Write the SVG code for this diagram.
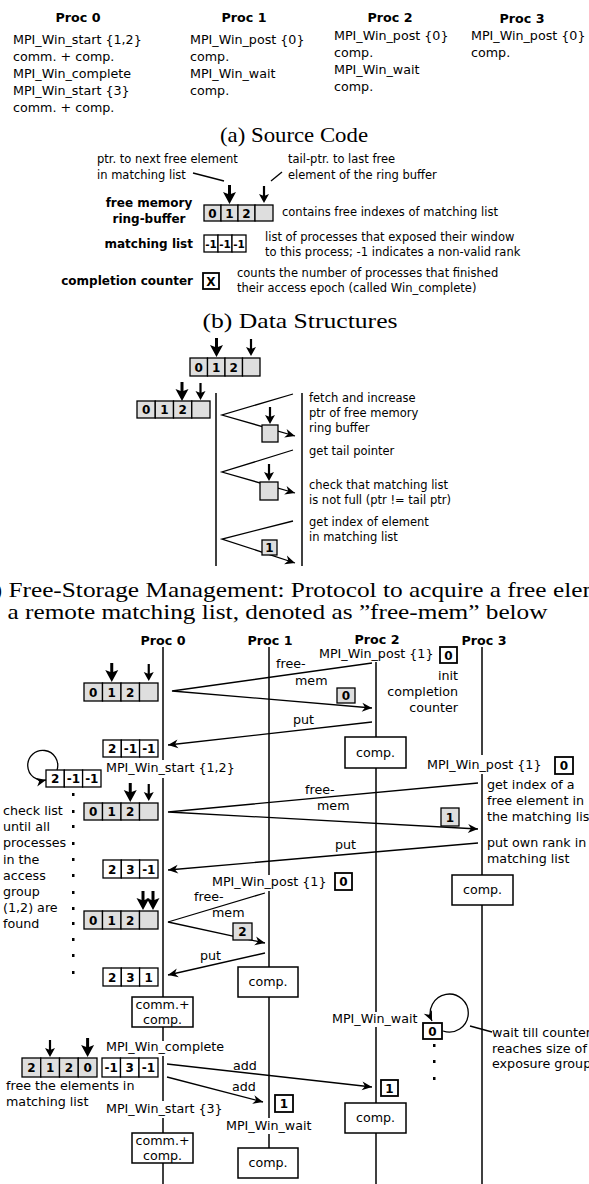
<svg xmlns="http://www.w3.org/2000/svg" xmlns:xlink="http://www.w3.org/1999/xlink" width="589" height="1184" viewBox="0 0 589 1184">
<style>
text{font-family:"DejaVu Sans","Liberation Sans",sans-serif;fill:#000}
.t{font-size:12.7px}
.s{font-size:11.5px}
.b{font-size:12.7px;font-weight:bold}
.bs{font-size:12px;font-weight:bold}
.d{font-size:12px;font-weight:bold;text-anchor:middle}
.ds{font-size:10.5px;font-weight:bold;text-anchor:middle}
.m{text-anchor:middle}
.e{text-anchor:end}
.cap{font-family:"Liberation Serif","Times New Roman",serif;font-size:21px}
.g{fill:#dedede;stroke:#000;stroke-width:1.3}
.w{fill:#fff;stroke:#000;stroke-width:1.3}
.wb{fill:#fff;stroke:#000;stroke-width:1.8}
.bx{fill:#fff;stroke:#000;stroke-width:1.5}
.ln{fill:none;stroke:#000;stroke-width:1.3}
.ar{fill:none;stroke:#000;stroke-width:1.3;marker-end:url(#ah)}
.life{stroke:#000;stroke-width:1.5}
</style>
<defs>
<marker id="ah" viewBox="-11 -5 12 10" refX="0" refY="0" markerWidth="12" markerHeight="10" markerUnits="userSpaceOnUse" orient="auto"><path d="M0,0 L-10,-4.5 L-7,0 L-10,4.5 Z" fill="#000"/></marker>
<g id="pbig"><path d="M0,-19 V-9" stroke="#000" stroke-width="3"/><path d="M0,0 L-6.5,-12 L0,-9.5 L6.5,-12 Z" fill="#000"/></g>
<g id="psmall"><path d="M0,-17 V-7" stroke="#000" stroke-width="2.2"/><path d="M0,0 L-5,-9 L0,-7 L5,-9 Z" fill="#000"/></g>
</defs>

<!-- (a) Source code -->
<g id="source-code">
<text class="b m" x="78" y="22">Proc 0</text>
<text class="b m" x="244" y="22">Proc 1</text>
<text class="b m" x="390" y="22">Proc 2</text>
<text class="b m" x="522" y="23">Proc 3</text>
<text class="t" x="13" y="44">MPI_Win_start {1,2}</text>
<text class="t" x="13" y="61">comm. + comp.</text>
<text class="t" x="13" y="78">MPI_Win_complete</text>
<text class="t" x="13" y="95">MPI_Win_start {3}</text>
<text class="t" x="13" y="112">comm. + comp.</text>
<text class="t" x="190" y="44">MPI_Win_post {0}</text>
<text class="t" x="190" y="61">comp.</text>
<text class="t" x="190" y="78">MPI_Win_wait</text>
<text class="t" x="190" y="95">comp.</text>
<text class="t" x="334" y="40">MPI_Win_post {0}</text>
<text class="t" x="334" y="57">comp.</text>
<text class="t" x="334" y="74">MPI_Win_wait</text>
<text class="t" x="334" y="91">comp.</text>
<text class="t" x="471" y="40">MPI_Win_post {0}</text>
<text class="t" x="471" y="57">comp.</text>
<text class="cap m" x="294" y="142" textLength="148" lengthAdjust="spacingAndGlyphs">(a) Source Code</text>
</g>

<!-- (b) Data structures -->
<g id="data-structures">
<text class="s" x="97" y="163">ptr. to next free element</text>
<text class="s" x="97" y="179">in matching list</text>
<text class="s" x="288" y="163">tail-ptr. to last free</text>
<text class="s" x="288" y="179">element of the ring buffer</text>
<line class="ln" x1="193" y1="173" x2="224" y2="181"/>
<line class="ln" x1="271" y1="181" x2="282" y2="172"/>
<use xlink:href="#pbig" x="229.5" y="204"/>
<use xlink:href="#psmall" x="264" y="203"/>
<text class="bs m" x="149" y="207">free memory</text>
<text class="bs m" x="149" y="223">ring-buffer</text>
<rect class="g" x="204" y="205" width="17" height="16"/>
<rect class="g" x="221" y="205" width="17" height="16"/>
<rect class="g" x="238" y="205" width="17" height="16"/>
<rect class="g" x="255" y="205" width="18" height="16"/>
<text class="d" x="212.5" y="217.5">0</text>
<text class="d" x="229.5" y="217.5">1</text>
<text class="d" x="246.5" y="217.5">2</text>
<text class="s" x="282" y="216">contains free indexes of matching list</text>
<text class="bs e" x="193" y="248">matching list</text>
<rect class="w" x="204" y="235" width="14" height="17"/>
<rect class="w" x="218" y="235" width="14" height="17"/>
<rect class="w" x="232" y="235" width="14" height="17"/>
<text class="ds" x="211" y="247.5">-1</text>
<text class="ds" x="225" y="247.5">-1</text>
<text class="ds" x="239" y="247.5">-1</text>
<text class="s" x="265" y="241">list of processes that exposed their window</text>
<text class="s" x="265" y="256">to this process; -1 indicates a non-valid rank</text>
<text class="bs e" x="193" y="285">completion counter</text>
<rect class="wb" x="203" y="273" width="16" height="16"/>
<text class="d" x="211" y="285.5">X</text>
<text class="s" x="237" y="277">counts the number of processes that finished</text>
<text class="s" x="237" y="292">their access epoch (called Win_complete)</text>
<text class="cap m" x="300" y="328" textLength="195" lengthAdjust="spacingAndGlyphs">(b) Data Structures</text>
</g>

<!-- (c) Free-storage protocol -->
<g id="free-storage">
<use xlink:href="#pbig" x="216.5" y="357"/>
<use xlink:href="#psmall" x="251" y="356"/>
<rect class="g" x="190" y="358" width="17.5" height="18"/>
<rect class="g" x="207.5" y="358" width="17.5" height="18"/>
<rect class="g" x="225" y="358" width="17.5" height="18"/>
<rect class="g" x="242.5" y="358" width="17.5" height="18"/>
<text class="d" x="198.75" y="371.5">0</text>
<text class="d" x="216.25" y="371.5">1</text>
<text class="d" x="233.75" y="371.5">2</text>
<use xlink:href="#pbig" x="182" y="401"/>
<use xlink:href="#psmall" x="200.5" y="400"/>
<rect class="g" x="137" y="401" width="18.25" height="17"/>
<rect class="g" x="155.25" y="401" width="18.25" height="17"/>
<rect class="g" x="173.5" y="401" width="18.25" height="17"/>
<rect class="g" x="191.75" y="401" width="18.25" height="17"/>
<text class="d" x="146.1" y="414">0</text>
<text class="d" x="164.4" y="414">1</text>
<text class="d" x="182.6" y="414">2</text>
<line class="life" x1="216" y1="393" x2="216" y2="566"/>
<line class="life" x1="302" y1="393" x2="302" y2="566"/>
<polyline class="ar" points="293,394 222,415 295,436"/>
<rect class="g" x="262" y="425" width="16" height="17"/>
<use xlink:href="#psmall" x="270" y="424"/>
<polyline class="ar" points="293,450 222,472 295,493"/>
<rect class="g" x="260" y="482" width="18" height="18"/>
<use xlink:href="#psmall" x="269" y="481"/>
<polyline class="ar" points="293,521 222,539 295,563"/>
<rect class="g" x="262" y="540" width="15" height="15"/>
<text class="d" x="269.5" y="552">1</text>
<text class="s" x="309" y="402">fetch and increase</text>
<text class="s" x="309" y="417">ptr of free memory</text>
<text class="s" x="309" y="432">ring buffer</text>
<text class="s" x="309" y="455">get tail pointer</text>
<text class="s" x="309" y="489">check that matching list</text>
<text class="s" x="309" y="504">is not full (ptr != tail ptr)</text>
<text class="s" x="309" y="526">get index of element</text>
<text class="s" x="309" y="541">in matching list</text>
<text class="cap" x="-26" y="597" textLength="685" lengthAdjust="spacingAndGlyphs">(c) Free-Storage Management: Protocol to acquire a free element in</text>
<text class="cap" x="7.5" y="619" textLength="540" lengthAdjust="spacingAndGlyphs">a remote matching list, denoted as ”free-mem” below</text>
</g>

<!-- Sequence diagram: process headers and lifelines -->
<g id="proc0">
<text class="b m" x="163" y="645">Proc 0</text>
<line class="life" x1="163" y1="647" x2="163" y2="760"/>
<line class="life" x1="163" y1="778" x2="163" y2="997"/>
<line class="life" x1="163" y1="1027" x2="163" y2="1041"/>
<line class="life" x1="163" y1="1056" x2="163" y2="1101"/>
<line class="life" x1="163" y1="1118" x2="163" y2="1133"/>
<line class="life" x1="163" y1="1163" x2="163" y2="1184"/>
<text class="t" x="106" y="772">MPI_Win_start {1,2}</text>
<text class="t" x="106" y="1051">MPI_Win_complete</text>
<text class="t" x="106" y="1113">MPI_Win_start {3}</text>
<rect class="bx" x="132" y="997" width="61" height="30"/>
<text class="t m" x="162.5" y="1009">comm.+</text>
<text class="t m" x="162.5" y="1024">comp.</text>
<rect class="bx" x="132" y="1133" width="61" height="30"/>
<text class="t m" x="162.5" y="1145">comm.+</text>
<text class="t m" x="162.5" y="1160">comp.</text>
</g>
<g id="proc1">
<text class="b m" x="270" y="645">Proc 1</text>
<line class="life" x1="269" y1="647" x2="269" y2="875"/>
<line class="life" x1="269" y1="891" x2="269" y2="967"/>
<line class="life" x1="269" y1="997" x2="269" y2="1118"/>
<line class="life" x1="269" y1="1134" x2="269" y2="1148"/>
<text class="t" x="212" y="886">MPI_Win_post {1}</text>
<rect class="wb" x="335" y="873" width="17" height="17"/>
<text class="d" x="343.5" y="886">0</text>
<rect class="bx" x="238" y="967" width="60" height="30"/>
<text class="t m" x="268" y="986">comp.</text>
<text class="t" x="226" y="1130">MPI_Win_wait</text>
<rect class="wb" x="275" y="1095" width="18" height="17"/>
<text class="d" x="284" y="1108">1</text>
<rect class="bx" x="238" y="1148" width="60" height="30"/>
<text class="t m" x="268" y="1167">comp.</text>
</g>
<g id="proc2">
<text class="b m" x="377" y="644">Proc 2</text>
<text class="t" x="319" y="658">MPI_Win_post {1}</text>
<rect class="wb" x="440" y="647" width="17" height="16"/>
<text class="d" x="448.5" y="659.5">0</text>
<text class="t e" x="458" y="680">init</text>
<text class="t e" x="458" y="696">completion</text>
<text class="t e" x="458" y="712">counter</text>
<line class="life" x1="376" y1="662" x2="376" y2="737"/>
<line class="life" x1="376" y1="768" x2="376" y2="1012"/>
<line class="life" x1="376" y1="1027" x2="376" y2="1103"/>
<line class="life" x1="376" y1="1133" x2="376" y2="1184"/>
<rect class="bx" x="345" y="737" width="61" height="31"/>
<text class="t m" x="375.5" y="757">comp.</text>
<text class="t" x="332" y="1023">MPI_Win_wait</text>
<rect class="wb" x="423" y="1023" width="19" height="16"/>
<text class="d" x="432.5" y="1035.5">0</text>
<path class="ar" d="M443,1031 A19,19 0 1 0 432,1021"/>
<rect x="433" y="1044" width="2.5" height="3" fill="#000"/>
<rect x="433" y="1060" width="2.5" height="3" fill="#000"/>
<rect x="433" y="1077" width="2.5" height="3" fill="#000"/>
<line class="ln" x1="470" y1="1026" x2="492" y2="1032"/>
<text class="t" x="492" y="1037">wait till counter</text>
<text class="t" x="492" y="1053">reaches size of</text>
<text class="t" x="492" y="1068">exposure group</text>
<rect class="wb" x="381" y="1080" width="17" height="16"/>
<text class="d" x="389.5" y="1092.5">1</text>
<rect class="bx" x="345" y="1103" width="61" height="30"/>
<text class="t m" x="375.5" y="1122">comp.</text>
</g>
<g id="proc3">
<text class="b m" x="484" y="645">Proc 3</text>
<line class="life" x1="482" y1="647" x2="482" y2="755"/>
<line class="life" x1="482" y1="774" x2="482" y2="875"/>
<line class="life" x1="482" y1="905" x2="482" y2="1184"/>
<text class="t" x="427" y="769">MPI_Win_post {1}</text>
<rect class="wb" x="555" y="757" width="18" height="17"/>
<text class="d" x="564" y="770">0</text>
<text class="t" x="487" y="789">get index of a</text>
<text class="t" x="487" y="805">free element in</text>
<text class="t" x="487" y="821">the matching list</text>
<text class="t" x="487" y="847">put own rank in</text>
<text class="t" x="487" y="863">matching list</text>
<rect class="bx" x="452" y="875" width="61" height="30"/>
<text class="t m" x="482.5" y="894">comp.</text>
</g>

<!-- Proc 0 local data structures -->
<g id="p0-ring1">
<use xlink:href="#pbig" x="111.75" y="682"/>
<use xlink:href="#psmall" x="148.75" y="681"/>
<rect class="g" x="84" y="683" width="18.5" height="18"/>
<rect class="g" x="102.5" y="683" width="18.5" height="18"/>
<rect class="g" x="121" y="683" width="18.5" height="18"/>
<rect class="g" x="139.5" y="683" width="18.5" height="18"/>
<text class="d" x="93.25" y="696.5">0</text>
<text class="d" x="111.75" y="696.5">1</text>
<text class="d" x="130.25" y="696.5">2</text>
</g>
<g id="p0-list1">
<rect class="w" x="103" y="740" width="18.3" height="17"/>
<rect class="w" x="121.3" y="740" width="18.3" height="17"/>
<rect class="w" x="139.6" y="740" width="18.4" height="17"/>
<text class="d" x="112.2" y="753">2</text>
<text class="d" x="130.5" y="753">-1</text>
<text class="d" x="148.8" y="753">-1</text>
</g>
<g id="p0-loop-list">
<rect class="w" x="46" y="770" width="18.3" height="17"/>
<rect class="w" x="64.3" y="770" width="18.3" height="17"/>
<rect class="w" x="82.6" y="770" width="18.4" height="17"/>
<text class="d" x="55.2" y="783">2</text>
<text class="d" x="73.5" y="783">-1</text>
<text class="d" x="91.8" y="783">-1</text>
<path class="ar" d="M57,770 A15,15 0 1 0 46,780"/>
</g>
<g id="p0-checklist">
<rect x="72" y="793" width="2.5" height="3" fill="#000"/>
<rect x="72" y="810" width="2.5" height="3" fill="#000"/>
<rect x="72" y="825" width="2.5" height="3" fill="#000"/>
<rect x="72" y="842" width="2.5" height="3" fill="#000"/>
<rect x="72" y="858" width="2.5" height="3" fill="#000"/>
<rect x="72" y="874" width="2.5" height="3" fill="#000"/>
<rect x="72" y="891" width="2.5" height="3" fill="#000"/>
<rect x="72" y="907" width="2.5" height="3" fill="#000"/>
<rect x="72" y="922" width="2.5" height="3" fill="#000"/>
<rect x="72" y="938" width="2.5" height="3" fill="#000"/>
<rect x="72" y="954" width="2.5" height="3" fill="#000"/>
<rect x="72" y="971" width="2.5" height="3" fill="#000"/>
<text class="t" x="3" y="815">check list</text>
<text class="t" x="3" y="831">until all</text>
<text class="t" x="3" y="847">processes</text>
<text class="t" x="3" y="864">in the</text>
<text class="t" x="3" y="880">access</text>
<text class="t" x="3" y="896">group</text>
<text class="t" x="3" y="912">(1,2) are</text>
<text class="t" x="3" y="928">found</text>
</g>
<g id="p0-ring2">
<use xlink:href="#pbig" x="130.25" y="802"/>
<use xlink:href="#psmall" x="148.75" y="801"/>
<rect class="g" x="84" y="803" width="18.5" height="17"/>
<rect class="g" x="102.5" y="803" width="18.5" height="17"/>
<rect class="g" x="121" y="803" width="18.5" height="17"/>
<rect class="g" x="139.5" y="803" width="18.5" height="17"/>
<text class="d" x="93.25" y="816">0</text>
<text class="d" x="111.75" y="816">1</text>
<text class="d" x="130.25" y="816">2</text>
</g>
<g id="p0-list2">
<rect class="w" x="103" y="860" width="18.3" height="18"/>
<rect class="w" x="121.3" y="860" width="18.3" height="18"/>
<rect class="w" x="139.6" y="860" width="18.4" height="18"/>
<text class="d" x="112.2" y="873.5">2</text>
<text class="d" x="130.5" y="873.5">3</text>
<text class="d" x="148.8" y="873.5">-1</text>
</g>
<g id="p0-ring3">
<use xlink:href="#pbig" x="143" y="910"/>
<use xlink:href="#pbig" x="153" y="910"/>
<rect class="g" x="84" y="911" width="18.5" height="18"/>
<rect class="g" x="102.5" y="911" width="18.5" height="18"/>
<rect class="g" x="121" y="911" width="18.5" height="18"/>
<rect class="g" x="139.5" y="911" width="18.5" height="18"/>
<text class="d" x="93.25" y="924.5">0</text>
<text class="d" x="111.75" y="924.5">1</text>
<text class="d" x="130.25" y="924.5">2</text>
</g>
<g id="p0-list3">
<rect class="w" x="103" y="968" width="18.3" height="18"/>
<rect class="w" x="121.3" y="968" width="18.3" height="18"/>
<rect class="w" x="139.6" y="968" width="18.4" height="18"/>
<text class="d" x="112.2" y="981.5">2</text>
<text class="d" x="130.5" y="981.5">3</text>
<text class="d" x="148.8" y="981.5">1</text>
</g>
<g id="p0-ring4">
<use xlink:href="#psmall" x="50" y="1057"/>
<use xlink:href="#pbig" x="87.6" y="1057"/>
<rect class="g" x="22" y="1058" width="18.75" height="19"/>
<rect class="g" x="40.75" y="1058" width="18.75" height="19"/>
<rect class="g" x="59.5" y="1058" width="18.75" height="19"/>
<rect class="g" x="78.25" y="1058" width="18.75" height="19"/>
<text class="d" x="31.4" y="1072">2</text>
<text class="d" x="50.1" y="1072">1</text>
<text class="d" x="68.9" y="1072">2</text>
<text class="d" x="87.6" y="1072">0</text>
<text class="t" x="6" y="1090">free the elements in</text>
<text class="t" x="6" y="1106">matching list</text>
</g>
<g id="p0-list4">
<rect class="w" x="102" y="1058" width="18.5" height="19"/>
<rect class="w" x="120.5" y="1058" width="18.5" height="19"/>
<rect class="w" x="139" y="1058" width="19" height="19"/>
<text class="d" x="111.2" y="1072">-1</text>
<text class="d" x="129.7" y="1072">3</text>
<text class="d" x="148.5" y="1072">-1</text>
</g>

<!-- Connectors (messages) -->
<g id="connectors">
<polyline class="ar" points="372,663 172,691 372,708"/>
<line class="ar" x1="372" y1="722" x2="168" y2="745"/>
<polyline class="ar" points="478,783 168,812 478,829"/>
<line class="ar" x1="478" y1="843" x2="168" y2="870"/>
<polyline class="ar" points="265,893 168,922 265,943"/>
<line class="ar" x1="265" y1="953" x2="168" y2="975"/>
<line class="ar" x1="167" y1="1064" x2="372" y2="1087"/>
<line class="ar" x1="167" y1="1077" x2="263" y2="1102"/>
<text class="t" x="276" y="668">free-</text>
<text class="t" x="295" y="685">mem</text>
<rect class="g" x="337" y="688" width="18" height="15"/>
<text class="d" x="346" y="700">0</text>
<text class="t" x="293" y="724">put</text>
<text class="t" x="305" y="794">free-</text>
<text class="t" x="317" y="810">mem</text>
<rect class="g" x="441" y="808" width="18" height="18"/>
<text class="d" x="450" y="821.5">1</text>
<text class="t" x="335" y="849">put</text>
<text class="t" x="194" y="901">free-</text>
<text class="t" x="212" y="917">mem</text>
<rect class="g" x="233" y="923" width="19" height="17"/>
<text class="d" x="242.5" y="936">2</text>
<text class="t" x="200" y="960">put</text>
<text class="t" x="233" y="1070">add</text>
<text class="t" x="232" y="1091">add</text>
</g>
</svg>
